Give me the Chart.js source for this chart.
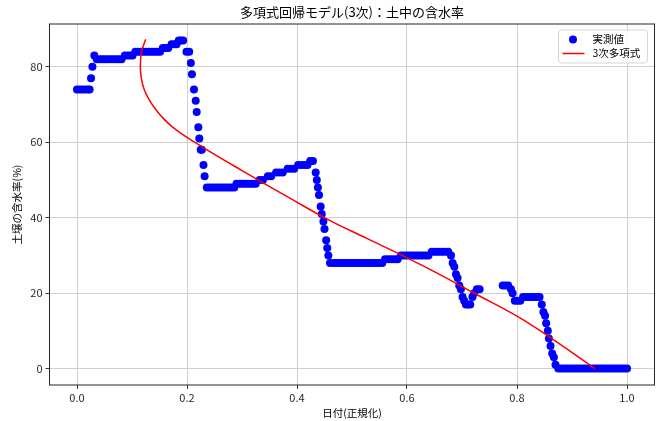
<!DOCTYPE html>
<html lang="ja">
<head>
<meta charset="utf-8">
<title>多項式回帰モデル(3次)：土中の含水率</title>
<script src="https://cdn.jsdelivr.net/npm/chart.js@4.4.1/dist/chart.umd.min.js"></script>
<style>
  html, body { margin: 0; padding: 0; background: #ffffff; }
  #wrap { width: 659px; height: 421px; position: relative; }
</style>
</head>
<body>
<div id="wrap"><canvas id="chart" width="659" height="421"></canvas></div>
<script>
// 実測値: 正規化した日付と土中の含水率(%)
const obsX = [
  0.000, 0.005, 0.010, 0.015, 0.020, 0.023, 0.0255, 0.028, 0.0315,
  0.036, 0.041, 0.046, 0.051, 0.056, 0.061, 0.066, 0.071, 0.076, 0.081,
  0.087, 0.092, 0.097, 0.101,
  0.106, 0.111, 0.116, 0.121, 0.126, 0.131, 0.136, 0.141, 0.146, 0.151,
  0.156, 0.161, 0.166, 0.172, 0.177, 0.181, 0.185, 0.189, 0.193,
  0.199, 0.204, 0.207, 0.209, 0.2127, 0.2158, 0.2176, 0.2206, 0.2224, 0.225, 0.227, 0.230, 0.232,
  0.236, 0.241, 0.246, 0.251, 0.256, 0.261, 0.266, 0.271, 0.276, 0.281, 0.286,
  0.290, 0.295, 0.300, 0.305, 0.310, 0.315, 0.320, 0.325,
  0.332, 0.338, 0.347, 0.353, 0.362, 0.368, 0.374, 0.383, 0.389, 0.395,
  0.402, 0.408, 0.414, 0.419, 0.424, 0.429,
  0.434, 0.436, 0.438, 0.440, 0.443, 0.445, 0.448, 0.450, 0.453, 0.455, 0.457,
  0.460, 0.465, 0.470, 0.475, 0.480, 0.485, 0.490, 0.495, 0.500, 0.505,
  0.510, 0.515, 0.520, 0.525, 0.530, 0.535, 0.540, 0.545, 0.550, 0.555,
  0.560, 0.566, 0.572, 0.578, 0.583,
  0.589, 0.594, 0.599, 0.604, 0.609, 0.614, 0.619, 0.624, 0.629, 0.634, 0.639,
  0.645, 0.650, 0.655, 0.660, 0.665, 0.670, 0.675,
  0.680, 0.683, 0.686, 0.689, 0.692, 0.695, 0.698, 0.701, 0.704,
  0.707, 0.711, 0.715, 0.719, 0.722, 0.727, 0.732,
  0.774, 0.779, 0.784, 0.789, 0.792,
  0.796, 0.801, 0.806,
  0.811, 0.816, 0.821, 0.826, 0.831, 0.836, 0.841,
  0.845, 0.848, 0.851, 0.853, 0.856, 0.858, 0.861, 0.864, 0.867, 0.870,
  0.875, 0.880, 0.885, 0.890, 0.895, 0.900, 0.905, 0.910, 0.915, 0.920,
  0.925, 0.930, 0.935, 0.940, 0.945, 0.950, 0.955, 0.960, 0.965, 0.970,
  0.975, 0.980, 0.985, 0.990, 0.995, 1.000
];
const obsY = [
  74, 74, 74, 74, 74, 74, 77, 80, 83,
  82, 82, 82, 82, 82, 82, 82, 82, 82, 82,
  83, 83, 83, 83,
  84, 84, 84, 84, 84, 84, 84, 84, 84, 84,
  85, 85, 85, 86, 86, 86, 87, 87, 87,
  84, 84, 81, 78, 74, 71, 68, 64, 61, 58, 58, 54, 51,
  48, 48, 48, 48, 48, 48, 48, 48, 48, 48, 48,
  49, 49, 49, 49, 49, 49, 49, 49,
  50, 50, 51, 51, 52, 52, 52, 53, 53, 53,
  54, 54, 54, 54, 55, 55,
  52, 50, 48, 46, 43, 41, 39, 37, 34, 32, 30,
  28, 28, 28, 28, 28, 28, 28, 28, 28, 28,
  28, 28, 28, 28, 28, 28, 28, 28, 28, 28,
  29, 29, 29, 29, 29,
  30, 30, 30, 30, 30, 30, 30, 30, 30, 30, 30,
  31, 31, 31, 31, 31, 31, 31,
  30, 28, 27, 25, 24, 22, 21, 19, 18,
  17, 17, 17, 19, 20, 21, 21,
  22, 22, 22, 21, 20,
  18, 18, 18,
  19, 19, 19, 19, 19, 19, 19,
  17, 15, 14, 12, 10, 8, 6, 4, 3, 1,
  0, 0, 0, 0, 0, 0, 0, 0, 0, 0,
  0, 0, 0, 0, 0, 0, 0, 0, 0, 0,
  0, 0, 0, 0, 0, 0
];

// 3次多項式による予測曲線
const fitX = [0.1249, 0.1176, 0.1151, 0.1173, 0.1222, 0.1308, 0.1432, 0.1590, 0.1750, 0.2000,
              0.2297, 0.2660, 0.3000, 0.3327, 0.3870, 0.4540, 0.5270, 0.5994, 0.6600, 0.7206,
              0.8000, 0.8660, 0.9418];
const fitY = [87.3, 84.1, 80.1, 76.7, 74.0, 71.4, 68.7, 66.0, 63.9, 61.3,
              58.6, 55.4, 52.5, 49.7, 45.2, 39.7, 34.5, 29.4, 24.9, 20.1,
              13.9, 7.7, 0.0];

// 目盛り
const xTicks = [0.0, 0.2, 0.4, 0.6, 0.8, 1.0];
const xTickLabels = ['0.0', '0.2', '0.4', '0.6', '0.8', '1.0'];
const yTicks = [0, 20, 40, 60, 80];
const yTickLabels = ['0', '20', '40', '60', '80'];

const seriesLabels = ['実測値', '3次多項式'];
const chartTitle = '多項式回帰モデル(3次)：土中の含水率';
const xTitle = '日付(正規化)';
const yTitle = '土壌の含水率(%)';

const FONT = '"Noto Sans CJK JP", "Noto Sans", sans-serif';
const BLUE = '#0000ff';
const RED = '#ff0000';

// 枠線・タイトル・凡例
const framePlugin = {
  id: 'frame',
  afterDraw(chart) {
    const { ctx, chartArea: a } = chart;
    ctx.save();
    ctx.strokeStyle = '#262626';
    ctx.lineWidth = 1;
    ctx.strokeRect(a.left, a.top, a.right - a.left, a.bottom - a.top);

    // タイトル
    ctx.fillStyle = '#000';
    ctx.font = '13px ' + FONT;
    ctx.textAlign = 'center';
    ctx.textBaseline = 'middle';
    ctx.fillText(chartTitle, (a.left + a.right) / 2, 12);

    // 凡例
    const bx = a.right - 96, by = a.top + 6, bw = 89, bh = 33;
    ctx.beginPath();
    ctx.roundRect(bx, by, bw, bh, 3);
    ctx.fillStyle = 'rgba(255,255,255,0.8)';
    ctx.fill();
    ctx.strokeStyle = '#d6d6d6';
    ctx.stroke();

    const r1 = by + 9.5, r2 = by + 23.5;
    ctx.fillStyle = BLUE;
    ctx.beginPath();
    ctx.arc(bx + 14.5, r1, 4, 0, Math.PI * 2);
    ctx.fill();
    ctx.strokeStyle = RED;
    ctx.lineWidth = 1.5;
    ctx.beginPath();
    ctx.moveTo(bx + 4, r2);
    ctx.lineTo(bx + 26, r2);
    ctx.stroke();

    ctx.fillStyle = '#000';
    ctx.font = '10.5px ' + FONT;
    ctx.textAlign = 'left';
    ctx.fillText(seriesLabels[0], bx + 34, r1);
    ctx.fillText(seriesLabels[1], bx + 34, r2);
    ctx.restore();
  }
};

new Chart(document.getElementById('chart'), {
  type: 'scatter',
  data: {
    datasets: [
      {
        label: seriesLabels[0],
        data: obsX.map((x, i) => ({ x, y: obsY[i] })),
        backgroundColor: BLUE,
        borderColor: BLUE,
        pointRadius: 4,
        pointBorderWidth: 0,
        order: 2
      },
      {
        label: seriesLabels[1],
        data: fitX.map((x, i) => ({ x, y: fitY[i] })),
        showLine: true,
        borderColor: RED,
        borderWidth: 1.5,
        pointRadius: 0,
        tension: 0.4,
        fill: false,
        order: 1
      }
    ]
  },
  options: {
    responsive: false,
    animation: false,
    events: [],
    layout: { padding: { top: 24, right: 4.5, left: 0, bottom: 0 } },
    plugins: {
      legend: { display: false },
      title: { display: false },
      tooltip: { enabled: false }
    },
    scales: {
      x: {
        type: 'linear',
        min: -0.05,
        max: 1.05,
        afterFit(scale) { scale.height = 36; },
        afterBuildTicks(scale) { scale.ticks = xTicks.map(v => ({ value: v })); },
        grid: { color: '#d0d0d0', lineWidth: 1, tickLength: 4, tickColor: '#333', drawTicks: true },
        border: { display: false },
        ticks: {
          color: '#262626',
          font: { family: FONT, size: 11 },
          padding: 2,
          maxRotation: 0,
          callback: (v, i) => xTickLabels[i]
        },
        title: {
          display: true,
          text: xTitle,
          color: '#000',
          font: { family: FONT, size: 10.5 },
          padding: { top: 1, bottom: 2 }
        }
      },
      y: {
        type: 'linear',
        min: -4.35,
        max: 91.35,
        afterFit(scale) { scale.width = 49.5; },
        afterBuildTicks(scale) { scale.ticks = yTicks.map(v => ({ value: v })); },
        grid: { color: '#d0d0d0', lineWidth: 1, tickLength: 4, tickColor: '#333', drawTicks: true },
        border: { display: false },
        ticks: {
          color: '#262626',
          font: { family: FONT, size: 11 },
          padding: 3,
          callback: (v, i) => yTickLabels[i]
        },
        title: {
          display: true,
          text: yTitle,
          color: '#000',
          font: { family: FONT, size: 10.5 },
          padding: { top: 11, bottom: 0 }
        }
      }
    }
  },
  plugins: [framePlugin]
});
</script>
</body>
</html>
